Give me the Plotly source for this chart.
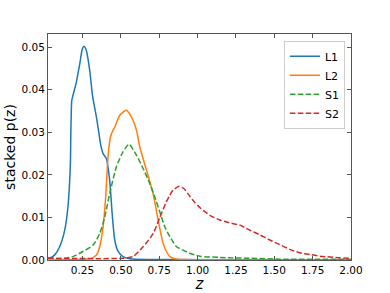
import plotly.graph_objects as go

# L1 (solid, blue)
l1_z = [0.025, 0.036, 0.069, 0.101, 0.134, 0.155, 0.171, 0.174, 0.180, 0.188, 0.210, 0.232, 0.249, 0.260, 0.275, 0.297, 0.315, 0.341, 0.356, 0.369, 0.384, 0.406, 0.427, 0.445, 0.460, 0.482, 0.514, 0.558, 0.688, 2.0]
l1_p = [0.0004, 0.0004, 0.0012, 0.0031, 0.0070, 0.0125, 0.0227, 0.0300, 0.0375, 0.0387, 0.0418, 0.0461, 0.0496, 0.0502, 0.0492, 0.0445, 0.0387, 0.0335, 0.0300, 0.0270, 0.0250, 0.0238, 0.0187, 0.0101, 0.0047, 0.0020, 0.0008, 0.0003, 0.0001, 0.0]

# L2 (solid, orange)
l2_z = [0.025, 0.200, 0.297, 0.341, 0.362, 0.384, 0.401, 0.416, 0.432, 0.449, 0.460, 0.493, 0.536, 0.569, 0.602, 0.623, 0.667, 0.710, 0.743, 0.775, 0.797, 0.819, 0.851, 0.917, 2.0]
l2_p = [0.0, 0.0001, 0.0003, 0.0012, 0.0031, 0.0078, 0.0148, 0.0242, 0.0289, 0.0305, 0.0312, 0.0340, 0.0352, 0.0336, 0.0305, 0.0266, 0.0211, 0.0156, 0.0094, 0.0039, 0.0020, 0.0008, 0.0003, 0.0001, 0.0]

# S1 (dashed, green)
s1_z = [0.025, 0.134, 0.188, 0.253, 0.319, 0.362, 0.395, 0.427, 0.471, 0.514, 0.553, 0.602, 0.645, 0.688, 0.721, 0.754, 0.786, 0.819, 0.863, 0.884, 0.949, 1.015, 1.145, 1.341, 1.536, 2.0]
s1_p = [0.0004, 0.0004, 0.0008, 0.0020, 0.0035, 0.0062, 0.0101, 0.0156, 0.0219, 0.0254, 0.0272, 0.0246, 0.0215, 0.0180, 0.0148, 0.0113, 0.0078, 0.0055, 0.0031, 0.0027, 0.0016, 0.0009, 0.0006, 0.0004, 0.0002, 0.0002]

# S2 (dashed, red)
s2_z = [0.025, 0.514, 0.579, 0.645, 0.710, 0.754, 0.797, 0.819, 0.840, 0.880, 0.910, 0.949, 0.980, 1.015, 1.080, 1.145, 1.210, 1.276, 1.341, 1.406, 1.471, 1.536, 1.602, 1.667, 1.732, 1.797, 1.862, 1.928, 1.993]
s2_p = [0.0004, 0.0004, 0.0008, 0.0031, 0.0062, 0.0100, 0.0137, 0.0152, 0.0164, 0.0173, 0.0168, 0.0150, 0.0136, 0.0123, 0.0105, 0.0094, 0.0087, 0.0082, 0.0070, 0.0059, 0.0047, 0.0036, 0.0025, 0.0017, 0.0013, 0.0009, 0.0007, 0.0005, 0.0004]

x_ticks = [0.25, 0.50, 0.75, 1.00, 1.25, 1.50, 1.75, 2.00]
y_ticks = [0.00, 0.01, 0.02, 0.03, 0.04, 0.05]

series = [
    ("L1", l1_z, l1_p, "#1f77b4", "solid"),
    ("L2", l2_z, l2_p, "#ff7f0e", "solid"),
    ("S1", s1_z, s1_p, "#2ca02c", "5.5px,2.4px"),
    ("S2", s2_z, s2_p, "#d62728", "5.5px,2.4px"),
]

fig = go.Figure()
for name, zs, ps, col, dash in series:
    fig.add_trace(go.Scatter(
        x=zs, y=ps, mode="lines", name=name,
        line=dict(color=col, width=1.5, dash=dash, shape="spline", smoothing=0.6),
    ))

axis_common = dict(
    showgrid=False, zeroline=False, showline=True, linecolor="#555555", linewidth=1,
    mirror="ticks", ticks="inside", ticklen=4, tickwidth=1, tickcolor="#555555",
    tickfont=dict(family="DejaVu Sans", size=10.5, color="black"),
    automargin=False,
)

fig.update_layout(
    width=390, height=293,
    margin=dict(l=48, r=39, t=34, b=33),
    paper_bgcolor="white", plot_bgcolor="white",
    font=dict(family="DejaVu Sans", color="black"),
    xaxis=dict(range=[0.025, 2.0], tickvals=x_ticks, ticktext=[f"{v:.2f}" for v in x_ticks],
               title=dict(text="<i>z</i>", font=dict(size=15), standoff=2), **axis_common),
    yaxis=dict(range=[0, 0.0531], tickvals=y_ticks, ticktext=[f"{v:.2f}" for v in y_ticks],
               title=dict(text="stacked p(z)", font=dict(size=14), standoff=2), **axis_common),
    legend=dict(x=0.98, y=0.97, xanchor="right", yanchor="top",
                bgcolor="rgba(255,255,255,0.8)", bordercolor="#cccccc", borderwidth=1,
                font=dict(size=11), itemwidth=30, tracegroupgap=0),
    showlegend=True,
)

fig.write_html(
    "out.html",
    config={"displayModeBar": False},
    post_script="document.body.style.margin='0';document.body.style.padding='0';",
)
